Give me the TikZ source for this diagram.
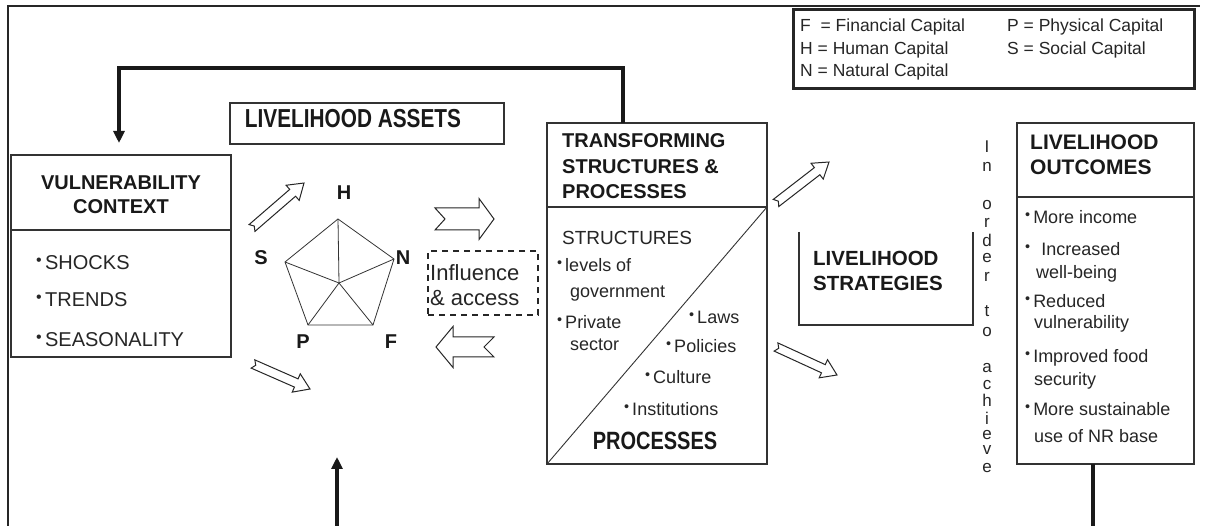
\documentclass[tikz,border=0pt]{standalone}
\usepackage{fontspec}
\setmainfont{Liberation Sans}
\newfontfamily\condfont{Liberation Sans}[FakeStretch=0.8]
\usetikzlibrary{calc,arrows.meta}

\tikzset{
  boxline/.style={draw=black!80, line width=1.4pt},
  box/.style={boxline, anchor=north west, inner sep=0pt, outer sep=0pt},
  ttl/.style={font=\fontsize{20}{24}\selectfont\bfseries, inner sep=0pt, text=black!90},
  itm/.style={font=\fontsize{18}{22}\selectfont, inner sep=0pt, anchor=base west, text=black!85},
  bigitm/.style={font=\fontsize{20}{24}\selectfont, inner sep=0pt, anchor=west, text=black!85},
  legtxt/.style={font=\fontsize{17.5}{20}\selectfont, inner sep=0pt, anchor=west, text=black!85},
  feedback/.style={line width=3.4pt, draw=black!90},
  pent/.style={line width=0.8pt, draw=black!80},
  hollow/.style={draw=black!85, line width=1pt, fill=white, line join=miter},
  achletter/.style={font=\fontsize{17}{18}\selectfont, inner sep=0pt, anchor=base, text=black!85},
}
\newcommand\bul{\raisebox{0.45ex}{\scalebox{0.8}{\textbullet}}\,}
% hollow block arrow: x1 y1 x2 y2 shafthalf headhalf headlength notch
\newcommand\blockarr[8]{%
  \pgfmathsetmacro\baDX{#3-#1}%
  \pgfmathsetmacro\baDY{#2-#4}%
  \pgfmathsetmacro\baANG{atan2(\baDY,\baDX)}%
  \pgfmathsetmacro\baLEN{veclen(\baDX,\baDY)}%
  \pgfmathsetmacro\baNECK{\baLEN-#7}%
  \draw[hollow, shift={(#1,#2)}, rotate=\baANG]
    (0,-#5) -- (\baNECK,-#5) -- (\baNECK,-#6) -- (\baLEN,0) -- (\baNECK,#6)
    -- (\baNECK,#5) -- (0,#5) -- (#8,0) -- cycle;
}

\begin{document}
\begin{tikzpicture}[x=1pt,y=-1pt]
\fill[white] (0,0) rectangle (1208,526);
\useasboundingbox (0,0) rectangle (1208,526);

% outer frame
\coordinate (frBL) at (8,526);
\coordinate (frTL) at (8,6);
\coordinate (frTR) at (1200,6);
\draw[line width=2.2pt, black!85] (frBL) -- (frTL) -- (frTR);

% legend
\node[draw=black!85, line width=2.6pt, anchor=north west, inner sep=0pt,
      minimum width=401pt, minimum height=79pt] (legend) at (792,8) {};
\node[legtxt] (legF) at (800,27) {F~ = Financial Capital};
\node[legtxt] (legH) at (800,50) {H = Human Capital};
\node[legtxt] (legN) at (800,72) {N = Natural Capital};
\node[legtxt] (legP) at (1007,27) {P = Physical Capital};
\node[legtxt] (legS) at (1007,50) {S = Social Capital};

% vulnerability context
\node[box, minimum width=220pt, minimum height=202pt] (vuln) at (11,155) {};
\draw[boxline] ($(vuln.north west)+(0,75)$) -- ($(vuln.north east)+(0,75)$);
\node[ttl] (vulnT1) at (121,183) {VULNERABILITY};
\node[ttl] (vulnT2) at (121,207) {CONTEXT};
\node[bigitm] (vs1) at (36,263) {\bul SHOCKS};
\node[bigitm] (vs2) at (36,300) {\bul TRENDS};
\node[bigitm] (vs3) at (36,340) {\bul SEASONALITY};

% livelihood assets
\node[box, minimum width=274pt, minimum height=41pt] (assets) at (230,103) {};
\node[ttl, font=\fontsize{26}{28}\selectfont\condfont\bfseries] (assetsT) at (353,119) {LIVELIHOOD ASSETS};

% pentagon
\coordinate (pH) at (338,219);
\coordinate (pS) at (285,262);
\coordinate (pN) at (394,259);
\coordinate (pP) at (308,325);
\coordinate (pF) at (373,325);
\coordinate (pC) at (339,283);
\draw[pent] (pH) -- (pN) -- (pF) -- (pP) -- (pS) -- cycle;
\foreach \v in {pH,pS,pN,pP,pF} \draw[pent] (pC) -- (\v);
\node[ttl] (lH) at (344,193) {H};
\node[ttl] (lS) at (261,258) {S};
\node[ttl] (lN) at (403,258) {N};
\node[ttl] (lP) at (303,342) {P};
\node[ttl] (lF) at (391,342) {F};

% influence & access
\node[draw=black!85, line width=2.2pt, dash pattern=on 6pt off 5pt, anchor=north west,
      inner sep=0pt, minimum width=110pt, minimum height=64pt] (infl) at (427,250) {};
\node[font=\fontsize{22}{24}\selectfont, inner sep=0pt, anchor=base west, text=black!85] (inflT1) at (430,281) {Influence};
\node[font=\fontsize{22}{24}\selectfont, inner sep=0pt, anchor=base west, text=black!85] (inflT2) at (430,306) {\& access};

% block arrows
\blockarr{252}{228}{304}{183}{4.5}{10}{15}{3}
\blockarr{253}{364}{310}{389}{4.5}{10}{15}{3}
\blockarr{435}{219}{494}{219}{11}{20.5}{15}{10}
\blockarr{494}{347}{436}{347}{10}{20.5}{17}{10}
\blockarr{776}{203}{829}{162}{4.5}{10}{15}{3}
\blockarr{776}{347}{837}{375}{4.5}{10}{15}{3}

% transforming structures & processes
\node[box, minimum width=220pt, minimum height=341pt] (tsp) at (547,123) {};
\coordinate (tspDivR) at ($(tsp.north east)+(0,84)$);
\draw[boxline] ($(tsp.north west)+(0,84)$) -- (tspDivR);
\draw[line width=0.9pt, black!80] (tsp.south west) -- (tspDivR);
\node[ttl, anchor=west] (tspT1) at (562,141) {TRANSFORMING};
\node[ttl, anchor=west] (tspT2) at (562,167) {STRUCTURES \&};
\node[ttl, anchor=west] (tspT3) at (562,192) {PROCESSES};
\node[font=\fontsize{19}{22}\selectfont, inner sep=0pt, anchor=west, text=black!85] (tspS) at (562,238) {STRUCTURES};
\node[itm] (ti1) at (557,272) {\bul levels of};
\node[itm] (ti1b) at (570,298) {government};
\node[itm] (ti2) at (557,329) {\bul Private};
\node[itm] (ti2b) at (570,351) {sector};
\node[itm] (ti3) at (689,324) {\bul Laws};
\node[itm] (ti4) at (666,353) {\bul Policies};
\node[itm] (ti5) at (645,384) {\bul Culture};
\node[itm] (ti6) at (624,416) {\bul Institutions};
\node[ttl, font=\fontsize{25}{28}\selectfont\condfont\bfseries] (tspP) at (655,441) {PROCESSES};

% livelihood strategies (open top)
\node[inner sep=0pt, outer sep=0pt, anchor=north west, minimum width=174pt, minimum height=93pt] (strat) at (799,232) {};
\draw[boxline] (strat.north west) -- (strat.south west) -- (strat.south east) -- (strat.north east);
\node[ttl, anchor=west, font=\fontsize{20.5}{24}\selectfont\bfseries] (stratT1) at (813,258) {LIVELIHOOD};
\node[ttl, anchor=west, font=\fontsize{20.5}{24}\selectfont\bfseries] (stratT2) at (813,283) {STRATEGIES};

% in order to achieve
\foreach \ch/\yy [count=\i] in {I/148,n/167,o/205,r/223,d/242,e/258,r/277,t/312,o/332,a/368,c/385,h/402,i/420,e/435,v/450,e/467}
  \node[achletter] (ach\i) at (987,\yy+5) {\ch};

% livelihood outcomes
\node[box, minimum width=177pt, minimum height=341pt] (outc) at (1017,123) {};
\draw[boxline] ($(outc.north west)+(0,74)$) -- ($(outc.north east)+(0,74)$);
\node[ttl, anchor=west, font=\fontsize{21}{24}\selectfont\bfseries] (outT1) at (1030,142) {LIVELIHOOD};
\node[ttl, anchor=west, font=\fontsize{21}{24}\selectfont\bfseries] (outT2) at (1030,167) {OUTCOMES};
\node[itm] (oi1) at (1025,224) {\bul More income};
\node[itm] (oi2) at (1025,256) {\bul\, Increased};
\node[itm] (oi2b) at (1036,279) {well-being};
\node[itm] (oi3) at (1025,308) {\bul Reduced};
\node[itm] (oi3b) at (1034,329) {vulnerability};
\node[itm] (oi4) at (1025,363) {\bul Improved food};
\node[itm] (oi4b) at (1034,386) {security};
\node[itm] (oi5) at (1025,416) {\bul More sustainable};
\node[itm] (oi5b) at (1034,443) {use of NR base};

% feedback connector from TSP to vulnerability context
\coordinate (fbR) at (623,68);
\coordinate (fbL) at (119,68);
\draw[feedback, -{Triangle[length=12pt,width=11pt]}, shorten >=12pt]
  (tsp.north -| fbR) -- (fbR) -- (fbL) -- (vuln.north -| fbL);

% bottom connectors
\coordinate (botA) at (337,526);
\coordinate (botAtip) at (337,457);
\draw[feedback, -{Triangle[length=12pt,width=11pt]}] (botA) -- (botAtip);
\coordinate (botB) at (1093,526);
\draw[feedback] (outc.south -| botB) -- (botB);
\end{tikzpicture}
\end{document}
